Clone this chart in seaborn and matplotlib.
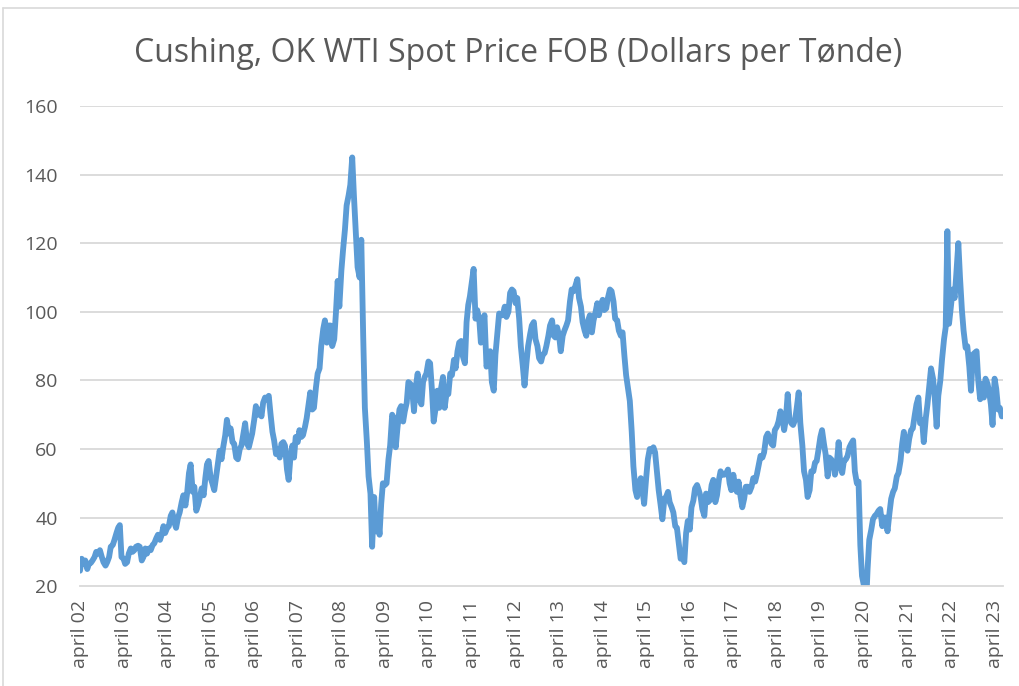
import pandas as pd
import seaborn as sns
import matplotlib.pyplot as plt
from matplotlib.lines import Line2D

y2002 = [24.5, 28.0, 26.5, 27.5, 25.0, 26.5, 26.8, 27.5, 28.5, 30.0, 29.5, 30.5,
         28.5, 27.0, 26.0, 27.0, 28.5, 31.5]
y2003 = [32.0, 33.5, 35.5, 37.0, 37.8, 28.5, 28.0, 26.5, 27.0, 29.5, 31.0, 30.0,
         30.5, 31.5, 31.8, 31.5, 27.5, 28.5, 31.0, 29.5, 31.0, 30.5, 32.0, 32.5]
y2004 = [34.0, 35.0, 33.5, 35.0, 37.5, 35.5, 37.0, 37.5, 40.5, 41.5, 38.5, 37.0,
         40.0, 41.5, 44.5, 46.5, 43.5, 47.0, 53.0, 55.5, 47.5, 49.0, 42.0, 43.5]
y2005 = [46.0, 48.5, 46.5, 51.5, 55.5, 56.5, 51.5, 50.0, 48.0, 51.5, 56.0, 59.5,
         57.0, 60.5, 64.0, 68.5, 64.5, 66.0, 62.0, 61.5, 57.5, 57.0, 60.0, 61.0]
y2006 = [64.5, 67.5, 61.5, 60.5, 62.5, 64.5, 68.5, 72.5, 70.0, 71.5, 69.5, 73.5,
         75.0, 74.5, 75.5, 70.5, 65.0, 62.5, 58.5, 60.0, 57.5, 61.5, 62.0, 61.0]
y2007 = [54.0, 51.0, 58.5, 61.0, 57.5, 63.5, 62.0, 65.5, 63.5, 64.0, 66.5, 69.0,
         73.0, 76.5, 71.5, 72.0, 78.0, 82.0, 83.5, 90.0, 95.0, 97.5, 91.0, 96.0]
y2008 = [96.0, 90.0, 92.0, 99.5, 109.0, 101.5, 112.0, 118.0, 124.0, 131.0, 134.0, 137.0,
         145.0, 134.0, 122.5, 113.0, 110.0, 121.0, 93.0, 72.0, 62.0, 52.0, 47.0, 31.5]
y2009 = [46.0, 36.0, 40.0, 35.0, 44.0, 50.0, 49.5, 50.0, 57.0, 61.0, 70.0, 69.0,
         60.5, 66.0, 71.5, 72.5, 68.0, 71.0, 73.5, 79.5, 79.0, 77.5, 71.0, 78.0]
y2010 = [82.0, 74.5, 73.0, 79.5, 81.0, 82.0, 85.5, 85.0, 77.0, 68.0, 72.0, 77.0,
         72.0, 77.5, 81.0, 72.0, 76.5, 76.0, 82.0, 81.5, 86.0, 83.5, 88.5, 91.0]
y2011 = [91.5, 87.0, 85.0, 97.0, 102.0, 104.5, 109.0, 112.5, 98.0, 100.5, 98.0, 91.0,
         96.0, 99.0, 84.0, 85.5, 88.5, 79.5, 77.0, 87.5, 94.0, 99.5, 99.0, 99.0]
y2012 = [101.5, 98.5, 100.0, 105.5, 106.5, 106.0, 102.5, 104.0, 98.0, 90.0, 84.0, 78.5,
         85.0, 90.0, 93.5, 96.0, 97.0, 92.0, 90.0, 86.5, 85.5, 87.5, 88.0, 90.0]
y2013 = [93.0, 96.0, 97.5, 93.0, 92.5, 95.5, 93.0, 88.5, 93.0, 94.5, 96.0, 97.5,
         103.0, 106.5, 106.0, 107.5, 109.5, 104.0, 101.5, 97.0, 94.5, 93.0, 97.5, 99.0]
y2014 = [94.0, 97.5, 100.0, 102.5, 99.0, 101.5, 103.5, 100.5, 101.0, 104.0, 106.5, 106.0,
         103.0, 98.0, 97.5, 94.5, 93.0, 94.0, 87.0, 81.5, 77.5, 74.0, 65.0, 55.0]
y2015 = [48.0, 46.0, 50.0, 51.5, 48.0, 44.0, 51.5, 57.0, 60.0, 59.5, 60.5, 59.0,
         53.0, 48.0, 43.5, 39.5, 45.5, 46.0, 47.5, 44.5, 43.0, 41.5, 37.5, 37.0]
y2016 = [32.0, 28.0, 29.0, 27.0, 35.5, 39.0, 36.5, 43.0, 45.0, 48.5, 49.5, 48.0,
         46.0, 42.5, 40.5, 47.0, 44.5, 45.0, 49.5, 51.0, 44.5, 46.5, 51.0, 53.5]
y2017 = [52.5, 52.5, 53.0, 54.0, 50.0, 48.0, 52.5, 49.5, 47.5, 50.5, 46.0, 43.0,
         45.5, 49.0, 49.0, 47.5, 49.0, 51.5, 50.5, 52.5, 55.5, 58.0, 57.5, 59.0]
y2018 = [63.5, 64.5, 63.0, 61.5, 61.0, 65.5, 66.5, 68.0, 71.0, 69.5, 65.5, 68.5,
         76.0, 69.0, 67.5, 67.0, 68.5, 72.0, 76.5, 67.5, 61.0, 53.5, 51.0, 46.0]
y2019 = [48.0, 53.5, 53.5, 56.0, 56.5, 59.5, 63.5, 65.5, 61.5, 58.5, 52.0, 57.5,
         57.0, 56.0, 52.5, 55.0, 62.0, 56.0, 53.0, 56.5, 57.0, 58.0, 60.5, 61.5]
y2020 = [62.5, 53.5, 50.0, 50.5, 32.0, 23.0, 20.0, 12.0, 25.0, 33.5, 36.5, 39.5,
         40.5, 41.0, 42.0, 42.5, 37.5, 40.0, 40.0, 36.0, 41.5, 45.5, 47.5, 48.5]
y2021 = [52.0, 53.0, 56.5, 61.5, 65.0, 61.0, 59.5, 63.0, 65.5, 66.0, 70.0, 73.0,
         75.0, 67.5, 68.5, 62.0, 69.0, 73.0, 78.5, 83.5, 80.5, 75.0, 66.5, 75.5]
y2022 = [80.0, 86.0, 92.0, 95.5, 123.5, 96.5, 102.0, 106.5, 104.0, 111.0, 120.0, 110.0,
         100.5, 94.5, 89.5, 90.0, 84.0, 77.0, 87.5, 88.0, 88.5, 80.0, 74.5, 79.0]
y2023 = [75.0, 80.5, 79.0, 76.5, 73.0, 67.0, 80.5, 77.5, 71.5, 72.0, 69.5]

prices = (y2002 + y2003 + y2004 + y2005 + y2006 + y2007 + y2008 + y2009 + y2010
          + y2011 + y2012 + y2013 + y2014 + y2015 + y2016 + y2017 + y2018
          + y2019 + y2020 + y2021 + y2022 + y2023)
dates = pd.date_range("2002-04-01", periods=len(prices), freq="SMS")
df = pd.DataFrame({"date": dates, "price": prices})

tick_dates = pd.date_range("2002-04-01", "2023-04-01", freq="12MS")
tick_labels = ["april " + d.strftime("%y") for d in tick_dates]

sns.set_style("white")
plt.rcParams["font.family"] = ["Open Sans", "DejaVu Sans"]

fig = plt.figure(figsize=(10.19, 6.86), dpi=100)
ax = fig.add_axes([0.0785, 0.1455, 0.9055, 0.7])

grid_c = "#D9D9D9"
text_c = "#595959"
for v in range(40, 161, 20):
    ax.axhline(v, color=grid_c, lw=1.3, zorder=0)

sns.lineplot(data=df, x="date", y="price", ax=ax, color="#5B9BD5", lw=4.2,
             solid_joinstyle="round", solid_capstyle="round")

ax.set_ylim(20, 160)
ax.set_xlim(dates[0], pd.Timestamp("2023-06-08"))
ax.set_yticks(range(20, 161, 20))
ax.set_xticks(tick_dates)
ax.set_xticklabels(tick_labels, rotation=90)
ax.tick_params(axis="y", length=0, pad=16, labelsize=14, labelcolor=text_c)
ax.tick_params(axis="x", length=6, width=1.3, color=grid_c, pad=4,
               labelsize=14, labelcolor=text_c)
ax.set_xlabel("")
ax.set_ylabel("")
for s in ["top", "right", "left"]:
    ax.spines[s].set_visible(False)
ax.spines["bottom"].set_color(grid_c)
ax.spines["bottom"].set_linewidth(1.3)

fig.text(0.508, 0.922, "Cushing, OK WTI Spot Price FOB (Dollars per Tønde)",
         ha="center", va="center", fontsize=23, color=text_c)

# light frame on the top and left edges
fig.add_artist(Line2D([3 / 1019, 1], [1 - 8 / 686, 1 - 8 / 686],
                      transform=fig.transFigure, color=grid_c, lw=1.2))
fig.add_artist(Line2D([3 / 1019, 3 / 1019], [0, 1 - 8 / 686],
                      transform=fig.transFigure, color=grid_c, lw=1.2))

fig.savefig("out.png", dpi=100)
